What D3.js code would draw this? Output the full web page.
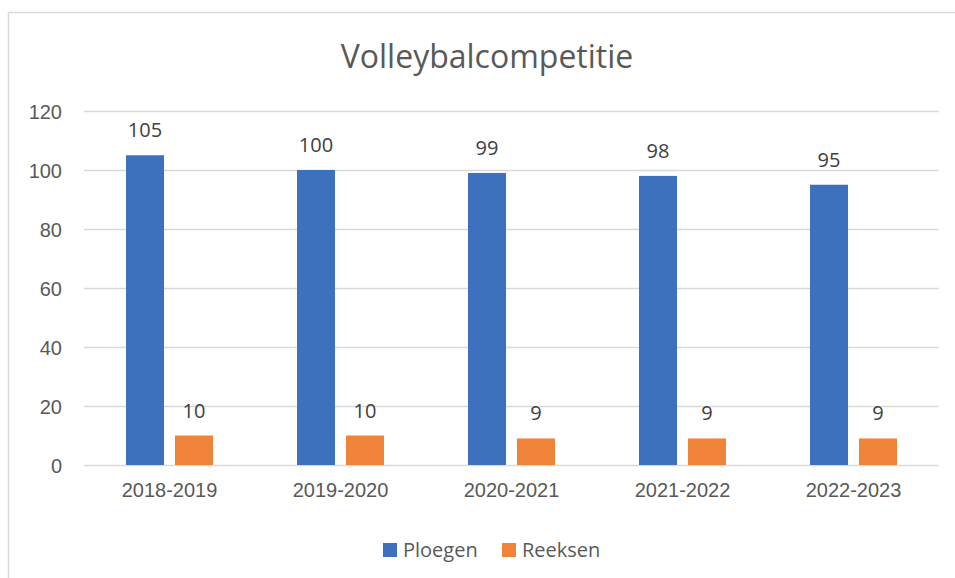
<!DOCTYPE html>
<html>
<head>
<meta charset="utf-8">
<script src="https://cdn.jsdelivr.net/npm/d3@7"></script>
<style>
    body { margin: 0; background: #fff; }
    svg { display: block; font-family: "Open Sans", sans-serif; }
</style>
</head>
<body>
<div id="chart"></div>
<script>
// chart data
const seasons = ["2018-2019", "2019-2020", "2020-2021", "2021-2022", "2022-2023"];
const ploegen = [105, 100, 99, 98, 95];
const reeksen = [10, 10, 9, 9, 9];
const seriesNames = ["Ploegen", "Reeksen"];
const yTicks = [0, 20, 40, 60, 80, 100, 120];

const width = 955;
const height = 578;
const colors = ["#3d71bd", "#f0833a"];
const textColor = "#595959";

const svg = d3.select("#chart").append("svg")
    .attr("width", width)
    .attr("height", height);

// chart area frame (cut off on the right and bottom)
svg.append("rect")
    .attr("x", 8.5).attr("y", 12.5)
    .attr("width", 980).attr("height", 600)
    .attr("fill", "none")
    .attr("stroke", "#d9d9d9")
    .attr("stroke-width", 1.5);

// title
svg.append("text")
    .attr("x", 487).attr("y", 68)
    .attr("text-anchor", "middle")
    .attr("fill", textColor)
    .style("font-size", "32px")
    .text("Volleybalcompetitie");

// scales
const xScale = d3.scaleBand()
    .domain(seasons)
    .range([84, 939]);

const yScale = d3.scaleLinear()
    .domain([0, 120])
    .range([465, 111]);

// two bars per season, 38px wide with an 11px gap
const inner = d3.scaleBand()
    .domain(seriesNames)
    .range([xScale.bandwidth() / 2 - 43.5, xScale.bandwidth() / 2 + 43.5])
    .paddingInner(0.224);

// gridlines + y labels
const yAxis = d3.axisLeft(yScale)
    .tickValues(yTicks)
    .tickSize(-(939 - 84))
    .tickPadding(22);

svg.append("g")
    .attr("transform", "translate(84,0)")
    .call(yAxis)
    .call(g => g.select(".domain").remove())
    .call(g => g.selectAll(".tick line").attr("stroke", "#d9d9d9").attr("stroke-width", 1.5))
    .call(g => g.selectAll(".tick text")
        .attr("fill", textColor)
        .style("font-size", "20px")
        .attr("dy", "0.36em"));

// x labels
const xAxis = d3.axisBottom(xScale).tickSize(0).tickPadding(18);
svg.append("g")
    .attr("transform", "translate(0,465)")
    .call(xAxis)
    .call(g => g.select(".domain").remove())
    .call(g => g.selectAll(".tick text")
        .attr("fill", textColor)
        .style("font-size", "20px"));

// bars
const series = [ploegen, reeksen];
series.forEach((values, s) => {
    const g = svg.append("g");
    g.selectAll("rect")
        .data(values)
        .enter()
        .append("rect")
        .attr("x", (d, i) => xScale(seasons[i]) + inner(seriesNames[s]))
        .attr("y", d => yScale(d))
        .attr("width", inner.bandwidth())
        .attr("height", d => yScale(0) - yScale(d))
        .attr("fill", colors[s]);

    // data labels
    g.selectAll("text")
        .data(values)
        .enter()
        .append("text")
        .attr("x", (d, i) => xScale(seasons[i]) + inner(seriesNames[s]) + inner.bandwidth() / 2)
        .attr("y", d => yScale(d) - 18)
        .attr("text-anchor", "middle")
        .attr("fill", "#404040")
        .style("font-size", "20px")
        .text(d => d);
});

// legend
const legendX = [383, 502];
const legend = svg.append("g");
seriesNames.forEach((name, i) => {
    legend.append("rect")
        .attr("x", legendX[i]).attr("y", 543)
        .attr("width", 14).attr("height", 14)
        .attr("fill", colors[i]);
    legend.append("text")
        .attr("x", legendX[i] + 20).attr("y", 557)
        .attr("fill", textColor)
        .style("font-size", "20px")
        .text(name);
});
</script>
</body>
</html>
